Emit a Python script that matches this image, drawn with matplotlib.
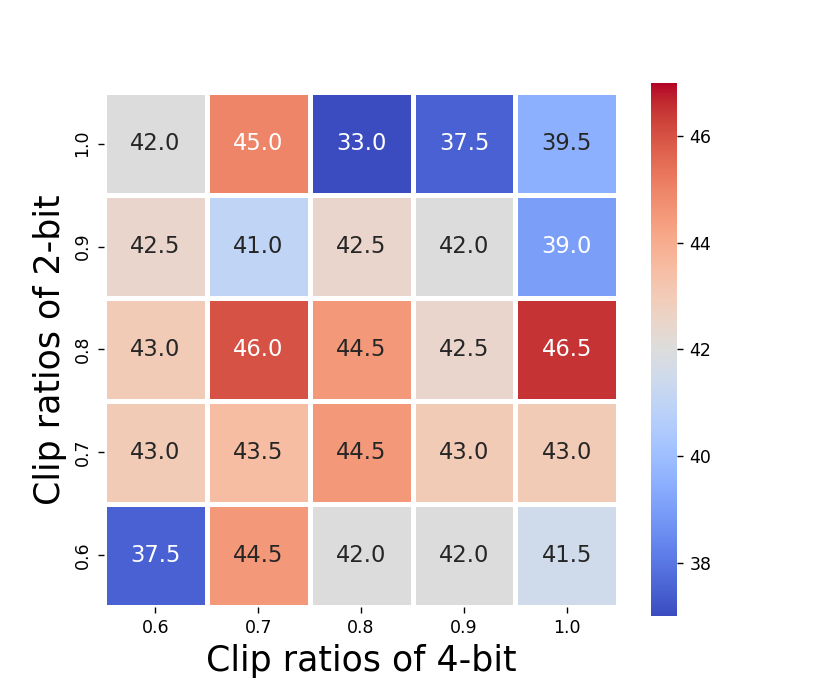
import numpy as np
import matplotlib
matplotlib.use("Agg")
import matplotlib.pyplot as plt
import seaborn as sns

# clip ratios used for each bit-width
clip_4bit = ["0.6", "0.7", "0.8", "0.9", "1.0"]
clip_2bit = ["1.0", "0.9", "0.8", "0.7", "0.6"]  # top to bottom

# accuracy values, rows follow clip_2bit, columns follow clip_4bit
row_10 = [42.0, 45.0, 33.0, 37.5, 39.5]
row_09 = [42.5, 41.0, 42.5, 42.0, 39.0]
row_08 = [43.0, 46.0, 44.5, 42.5, 46.5]
row_07 = [43.0, 43.5, 44.5, 43.0, 43.0]
row_06 = [37.5, 44.5, 42.0, 42.0, 41.5]

scores = np.array([row_10, row_09, row_08, row_07, row_06])

fig = plt.figure(figsize=(6.64, 5.536), dpi=125)
ax = fig.gca()

sns.heatmap(scores, ax=ax, cmap="coolwarm", vmin=37, vmax=47,
            annot=True, fmt=".1f", annot_kws={"size": 13},
            linewidths=2, linecolor="white", square=True,
            xticklabels=clip_4bit, yticklabels=clip_2bit)

ax.set_xlabel("Clip ratios of 4-bit", fontsize=20)
ax.set_ylabel("Clip ratios of 2-bit", fontsize=20)

plt.savefig("out.png", dpi=125)
